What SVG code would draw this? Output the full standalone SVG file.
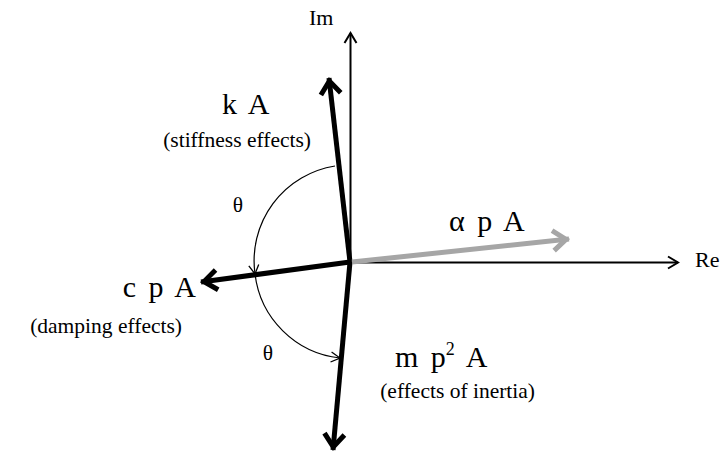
<svg xmlns="http://www.w3.org/2000/svg" width="721" height="454" viewBox="0 0 721 454">
  <defs>
    <marker id="thick" markerUnits="userSpaceOnUse" markerWidth="40" markerHeight="40" refX="0" refY="0" orient="auto" overflow="visible">
      <path d="M-16,-10 L-3,0 L-16,10" fill="none" stroke="#000" stroke-width="5" stroke-linejoin="miter" stroke-miterlimit="10"/>
    </marker>
    <marker id="thickGray" markerUnits="userSpaceOnUse" markerWidth="40" markerHeight="40" refX="0" refY="0" orient="auto" overflow="visible">
      <path d="M-16,-10 L-3,0 L-16,10" fill="none" stroke="#a6a6a6" stroke-width="5" stroke-linejoin="miter" stroke-miterlimit="10"/>
    </marker>
    <marker id="axis" markerUnits="userSpaceOnUse" markerWidth="30" markerHeight="30" refX="0" refY="0" orient="auto" overflow="visible">
      <path d="M-10,-6 L0,0 L-10,6" fill="none" stroke="#000" stroke-width="2"/>
    </marker>
    <marker id="thin" markerUnits="userSpaceOnUse" markerWidth="30" markerHeight="30" refX="0" refY="0" orient="auto" overflow="visible">
      <path d="M-9,-5 L0,0 L-9,5" fill="none" stroke="#000" stroke-width="1.3"/>
    </marker>
  </defs>
  <style>
    .big { font-family: "Liberation Serif", "Times New Roman", serif; font-size: 30px; word-spacing: 5px; fill: #000; }
    .small { font-family: "Liberation Serif", "Times New Roman", serif; font-size: 21.5px; fill: #000; }
    .ax { font-family: "Liberation Serif", "Times New Roman", serif; font-size: 22px; fill: #000; }
    .vec { fill: none; stroke: #000; stroke-width: 5; marker-end: url(#thick); }
    .axline { fill: none; stroke: #000; stroke-width: 2; marker-end: url(#axis); }
    .arc { fill: none; stroke: #000; stroke-width: 1.2; marker-end: url(#thin); }
  </style>

  <g id="connectors">
    <line class="axline" x1="350.5" y1="263" x2="350.5" y2="33"/>
    <line class="axline" x1="350" y1="262.5" x2="678" y2="262.5"/>
    <line class="vec" x1="350" y1="262" x2="329" y2="78"/>
    <line class="vec" x1="350" y1="262" x2="201" y2="282"/>
    <line class="vec" x1="350" y1="262" x2="333" y2="450"/>
    <line x1="352" y1="262" x2="569" y2="239" fill="none" stroke="#a6a6a6" stroke-width="5" marker-end="url(#thickGray)"/>
    <path class="arc" d="M335,166 A96,96 0 0 0 255,274"/>
    <path class="arc" d="M255,274 A96,96 0 0 0 340,358"/>
  </g>

  <g id="axis-im"><text class="ax" x="309" y="25">Im</text></g>
  <g id="axis-re"><text class="ax" x="695" y="267">Re</text></g>

  <g id="node-kA">
    <text class="big" x="222" y="114">k A</text>
    <text class="small" x="311" y="147" text-anchor="end">(stiffness effects)</text>
  </g>
  <g id="node-cpA">
    <text class="big" x="196" y="297" text-anchor="end">c p A</text>
    <text class="small" x="182" y="333" text-anchor="end">(damping effects)</text>
  </g>
  <g id="node-mp2A">
    <text class="big" x="395" y="367">m p<tspan font-size="18" dy="-12">2</tspan><tspan dy="12"> A</tspan></text>
    <text class="small" x="535" y="398" text-anchor="end">(effects of inertia)</text>
  </g>
  <g id="node-apA">
    <text class="big" x="449" y="231">α p A</text>
  </g>
  <g id="theta-1"><text class="small" x="238" y="212" text-anchor="middle">θ</text></g>
  <g id="theta-2"><text class="small" x="268" y="360" text-anchor="middle">θ</text></g>
</svg>
